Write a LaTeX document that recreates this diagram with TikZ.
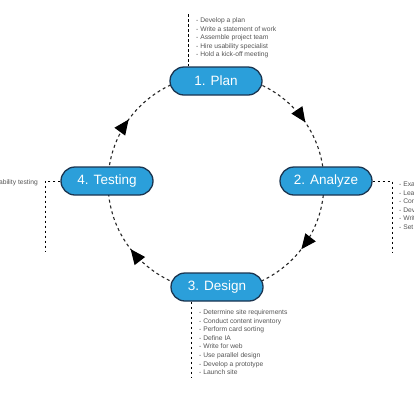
\documentclass[tikz,border=0pt]{standalone}
\usepackage{fontspec}
\setmainfont{Liberation Sans}
\usetikzlibrary{arrows.meta,decorations.markings}
\definecolor{stepfill}{HTML}{2B9FDA}
\definecolor{stepline}{HTML}{1B3550}
\definecolor{notegray}{HTML}{555555}
\tikzset{
  stepbox/.style={draw=stepline, line width=1.3pt, fill=stepfill, rounded corners=14pt,
    minimum width=92pt, minimum height=28pt, inner sep=0pt, text=white,
    font=\fontsize{13.5}{16}\selectfont},
  cyclearc/.style={draw=black!85, line width=1.1pt, dash pattern=on 3pt off 3pt},
  annot/.style={draw=black, line width=1pt, dash pattern=on 2.5pt off 2.5pt},
  notetext/.style={text=notegray, font=\fontsize{6.7}{8.6}\selectfont, align=left, inner sep=0pt},
  tipmark/.style={postaction=decorate, decoration={markings,
    mark=at position #1 with {\arrow[solid,black]{Triangle[length=15pt,width=13pt]}}}}
}
\begin{document}
\begin{tikzpicture}[x=1pt,y=1pt]
\useasboundingbox (0,0) rectangle (414,-400);
\fill[white] (0,0) rectangle (414,-400);

\coordinate (c) at (216,-183);
\draw[cyclearc, tipmark=0.62] (c) ++(90:108) arc[start angle=90, end angle=0, radius=108];
\draw[cyclearc, tipmark=0.42] (c) ++(0:108) arc[start angle=0, end angle=-90, radius=108];
\draw[cyclearc, tipmark=0.58] (c) ++(-90:108) arc[start angle=-90, end angle=-180, radius=108];
\draw[cyclearc, tipmark=0.40] (c) ++(180:108) arc[start angle=180, end angle=90, radius=108];

\node[stepbox] (plan) at (216,-81) {1. Plan};
\node[stepbox] (analyze) at (326,-181) {2. Analyze};
\node[stepbox] (design) at (217,-287) {3. Design};
\node[stepbox] (testing) at (107,-181) {4. Testing};

% Plan notes
\coordinate (pa) at (188,-14);
\draw[annot] (pa) -- (pa |- plan.north);
\node[notetext, anchor=north west] (plannotes) at (196,-17.5) {- Develop a plan\\- Write a statement of work\\- Assemble project team\\- Hire usability specialist\\- Hold a kick-off meeting};

% Analyze notes
\coordinate (ab) at (392,-252);
\draw[annot] (analyze.east) -| (ab);
\node[notetext, anchor=north west] (analyzenotes) at (399,-181.5) {- Examine current site\\- Learn about users\\- Conduct task analysis\\- Develop personas\\- Write scenarios\\- Set measurable goals};

% Design notes
\coordinate (db) at (191,-378);
\draw[annot] (db |- design.south) -- (db);
\node[notetext, anchor=north west] (designnotes) at (199,-309.5) {- Determine site requirements\\- Conduct content inventory\\- Perform card sorting\\- Define IA\\- Write for web\\- Use parallel design\\- Develop a prototype\\- Launch site};

% Testing notes
\coordinate (tb) at (45,-252);
\draw[annot] (testing.west) -| (tb);
\node[notetext, anchor=east] (testingnotes) at (38,-183) {- Conduct usability testing};
\end{tikzpicture}
\end{document}
